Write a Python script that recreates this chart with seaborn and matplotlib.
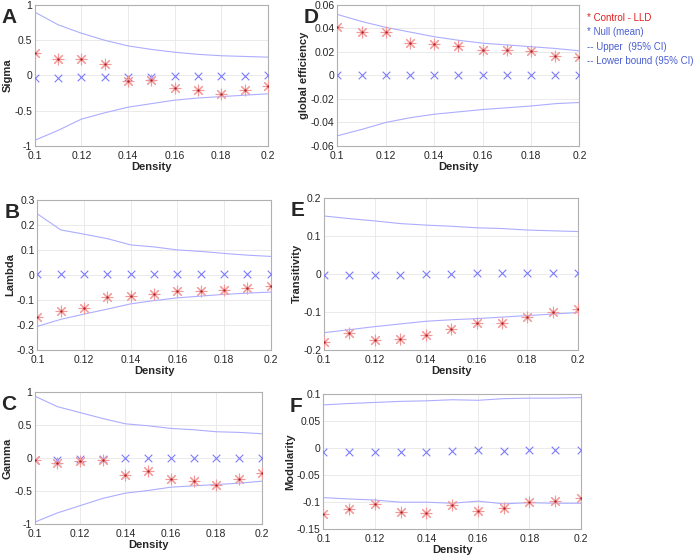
import matplotlib
matplotlib.use("Agg")
import matplotlib.pyplot as plt
import seaborn as sns
import pandas as pd
from matplotlib.ticker import FuncFormatter

# density thresholds
density = [0.10, 0.11, 0.12, 0.13, 0.14, 0.15, 0.16, 0.17, 0.18, 0.19, 0.20]

# A - Sigma
sigma_ctrl = [0.32, 0.23, 0.23, 0.16, -0.08, -0.06, -0.175, -0.20, -0.27, -0.21, -0.15]
sigma_null = [-0.03, -0.03, -0.02, -0.02, -0.02, -0.02, -0.01, -0.01, -0.01, -0.01, 0.0]
sigma_up = [0.90, 0.72, 0.60, 0.50, 0.42, 0.37, 0.33, 0.30, 0.28, 0.27, 0.26]
sigma_lo = [-0.92, -0.78, -0.62, -0.53, -0.45, -0.40, -0.35, -0.32, -0.30, -0.28, -0.26]

# B - Lambda
lambda_ctrl = [-0.169, -0.143, -0.133, -0.088, -0.085, -0.077, -0.063, -0.063, -0.060, -0.053, -0.046]
lambda_null = [0.002] * 11
lambda_up = [0.244, 0.180, 0.163, 0.145, 0.120, 0.112, 0.100, 0.094, 0.086, 0.079, 0.074]
lambda_lo = [-0.206, -0.178, -0.157, -0.137, -0.116, -0.103, -0.092, -0.085, -0.078, -0.073, -0.069]

# C - Gamma
gamma_ctrl = [-0.03, -0.07, -0.05, -0.025, -0.25, -0.20, -0.32, -0.34, -0.40, -0.32, -0.23]
gamma_null = [-0.03, -0.035, -0.02, -0.02, -0.005, -0.005, 0.0, 0.0, 0.0, 0.0, 0.0]
gamma_up = [0.94, 0.78, 0.69, 0.60, 0.52, 0.49, 0.45, 0.43, 0.40, 0.39, 0.37]
gamma_lo = [-0.97, -0.83, -0.72, -0.61, -0.53, -0.49, -0.44, -0.42, -0.40, -0.38, -0.35]

# D - global efficiency
geff_ctrl = [0.041, 0.0367, 0.0367, 0.028, 0.027, 0.025, 0.022, 0.022, 0.0205, 0.017, 0.0156]
geff_null = [0.0] * 11
geff_up = [0.052, 0.046, 0.041, 0.037, 0.033, 0.030, 0.0275, 0.026, 0.0245, 0.023, 0.021]
geff_lo = [-0.0514, -0.046, -0.040, -0.036, -0.033, -0.031, -0.029, -0.0275, -0.026, -0.024, -0.023]

# E - Transitivity
trans_ctrl = [-0.179, -0.155, -0.174, -0.172, -0.160, -0.146, -0.130, -0.130, -0.114, -0.101, -0.094]
trans_null = [-0.003, -0.002, -0.002, -0.002, -0.001, 0.0, 0.001, 0.001, 0.002, 0.003, 0.003]
trans_up = [0.152, 0.145, 0.139, 0.132, 0.128, 0.125, 0.121, 0.119, 0.115, 0.113, 0.111]
trans_lo = [-0.155, -0.147, -0.139, -0.132, -0.125, -0.121, -0.118, -0.114, -0.110, -0.106, -0.102]

# F - Modularity
mod_ctrl = [-0.1225, -0.113, -0.104, -0.118, -0.120, -0.105, -0.117, -0.110, -0.100, -0.097, -0.092]
mod_null = [-0.006, -0.006, -0.006, -0.006, -0.006, -0.005, -0.004, -0.005, -0.004, -0.004, -0.003]
mod_up = [0.0805, 0.083, 0.085, 0.087, 0.088, 0.090, 0.089, 0.092, 0.093, 0.093, 0.094]
mod_lo = [-0.0915, -0.094, -0.096, -0.100, -0.100, -0.102, -0.098, -0.103, -0.101, -0.102, -0.102]

panels = [
    # letter, ylabel, ctrl, null, up, lo, ylim, yticks, axes rect
    ("A", "Sigma", sigma_ctrl, sigma_null, sigma_up, sigma_lo, (-1, 1), [-1, -0.5, 0, 0.5, 1],
     [0.050, 0.738, 0.336, 0.253]),
    ("B", "Lambda", lambda_ctrl, lambda_null, lambda_up, lambda_lo, (-0.3, 0.3),
     [-0.3, -0.2, -0.1, 0, 0.1, 0.2, 0.3], [0.054, 0.372, 0.336, 0.269]),
    ("C", "Gamma", gamma_ctrl, gamma_null, gamma_up, gamma_lo, (-1, 1), [-1, -0.5, 0, 0.5, 1],
     [0.050, 0.059, 0.327, 0.237]),
    ("D", "global efficiency", geff_ctrl, geff_null, geff_up, geff_lo, (-0.06, 0.06),
     [-0.06, -0.04, -0.02, 0, 0.02, 0.04, 0.06], [0.486, 0.738, 0.349, 0.253]),
    ("E", "Transitivity", trans_ctrl, trans_null, trans_up, trans_lo, (-0.2, 0.2),
     [-0.2, -0.1, 0, 0.1, 0.2], [0.467, 0.372, 0.366, 0.273]),
    ("F", "Modularity", mod_ctrl, mod_null, mod_up, mod_lo, (-0.15, 0.1),
     [-0.15, -0.1, -0.05, 0, 0.05, 0.1], [0.466, 0.050, 0.371, 0.242]),
]

sns.set_theme(style="whitegrid")
plt.rcParams['font.family'] = ['Liberation Sans', 'DejaVu Sans']
plt.rcParams.update({'font.size': 7.5})

fig = plt.figure(figsize=(6.94, 5.57), dpi=100)

fmt = FuncFormatter(lambda v, p: ('%g' % round(v, 4)))

for letter, ylab, ctrl, null, up, lo, ylim, yticks, rect in panels:
    ax = fig.add_axes(rect)
    df = pd.DataFrame({'density': density, 'ctrl': ctrl, 'null': null, 'up': up, 'lo': lo})

    # 95% CI bounds
    sns.lineplot(data=df, x='density', y='up', ax=ax, color='#adadff', lw=0.8)
    sns.lineplot(data=df, x='density', y='lo', ax=ax, color='#adadff', lw=0.8)
    # null mean and control values
    sns.scatterplot(data=df, x='density', y='null', ax=ax, marker='x', color='#7b7bff',
                    s=30, linewidth=0.8, zorder=3)
    sns.scatterplot(data=df, x='density', y='ctrl', ax=ax, marker=(8, 2, 0), color='#f29a9a',
                    s=60, linewidth=0.8, zorder=4)
    sns.scatterplot(data=df, x='density', y='ctrl', ax=ax, marker='o', color='#b02020',
                    s=3, linewidth=0, zorder=5)

    ax.set_xlim(0.1, 0.2)
    ax.set_ylim(*ylim)
    ax.set_xticks([0.1, 0.12, 0.14, 0.16, 0.18, 0.2])
    ax.set_yticks(yticks)
    ax.xaxis.set_major_formatter(fmt)
    ax.yaxis.set_major_formatter(fmt)
    ax.set_facecolor('white')
    ax.grid(True, color='#e6e6e6', lw=0.6)
    for sp in ax.spines.values():
        sp.set_visible(True)
        sp.set_color('#b0b0b0')
        sp.set_linewidth(0.8)
    ax.tick_params(axis='both', labelsize=7.5, colors='#262626', direction='in',
                   length=3, width=0.6)
    ax.tick_params(axis='x', pad=3.5)
    ax.tick_params(axis='y', pad=2)
    ax.set_xlabel('Density', fontsize=8, fontweight='bold', labelpad=1)
    ax.set_ylabel(ylab, fontsize=8, fontweight='bold', labelpad=1)

    fig.text(rect[0] - 0.048, rect[1] + rect[3] - 0.005, letter, fontsize=15,
             fontweight='bold', ha='left', va='top')

# legend text
legend_items = [
    ("* Control - LLD", '#e02020'),
    ("* Null (mean)", '#4a5fd0'),
    ("-- Upper  (95% CI)", '#4a5fd0'),
    ("-- Lower bound (95% CI)", '#4a5fd0'),
]
for i, (txt, col) in enumerate(legend_items):
    fig.text(0.846, 0.968 - i * 0.026, txt, color=col, fontsize=7,
             ha='left', va='center')

fig.savefig('out.png', dpi=100)
